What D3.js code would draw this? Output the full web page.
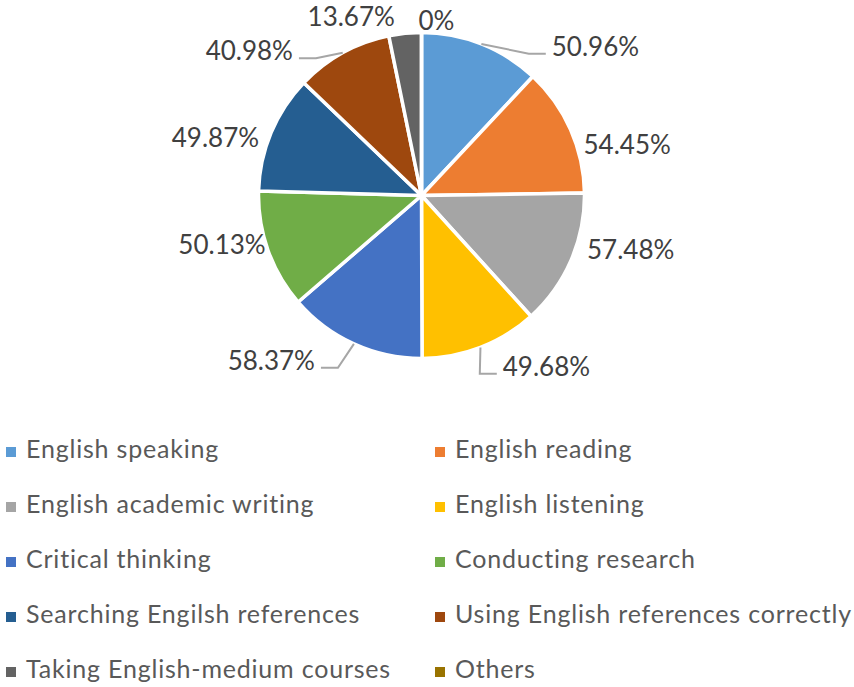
<!DOCTYPE html>
<html>
<head>
<meta charset="utf-8">
<script src="https://cdn.jsdelivr.net/npm/d3@7"></script>
<style>
  html, body { margin: 0; padding: 0; background: #fff; }
  svg { display: block; font-family: Lato, "Open Sans", sans-serif; }
</style>
</head>
<body>
<svg id="chart"></svg>
<script>
// data
const categories = [
  "English speaking", "English reading", "English academic writing", "English listening",
  "Critical thinking", "Conducting research", "Searching Engilsh references",
  "Using English references correctly", "Taking English-medium courses", "Others"
];
const values = [50.96, 54.45, 57.48, 49.68, 58.37, 50.13, 49.87, 40.98, 13.67, 0];
const colors = [
  "#5B9BD5", "#ED7D31", "#A5A5A5", "#FFC000", "#4472C4",
  "#70AD47", "#255E91", "#9E480E", "#636363", "#997300"
];

// label layout tweaks (Excel "best fit" moves some labels off the radial line)
const labelNudge = [[66, 13], [2, 19], [5, -16], [18, 7], [-34, 5], [9, -10], [-1, 9], [-44, 8], [-9, -5], [-3, -1]];
const hasLeader = [true, false, false, true, true, false, false, true, false, false];

const width = 854, height = 687;
const cx = 421.5, cy = 195.5, r = 163;

const svg = d3.select("#chart").attr("width", width).attr("height", height);
const g = svg.append("g").attr("transform", `translate(${cx},${cy})`);

const rows = categories.map((c, i) => ({ name: c, value: values[i], color: colors[i], i }));

const pie = d3.pie().value(d => d.value).sort(null);
const arcs = pie(rows);
const arc = d3.arc().innerRadius(0).outerRadius(r);

g.selectAll("path.slice")
  .data(arcs)
  .join("path")
  .attr("class", "slice")
  .attr("d", arc)
  .attr("fill", d => d.data.color)
  .attr("stroke", "#fff")
  .attr("stroke-width", 3.5)
  .attr("stroke-linejoin", "round");

// data labels
const pad = 12;
const labels = arcs.map(d => {
  const a = (d.startAngle + d.endAngle) / 2;
  const s = Math.sin(a), c = Math.cos(a);
  const nudge = labelNudge[d.data.i];
  const anchor = s > -0.01 ? "start" : "end";
  return {
    d, a, anchor,
    x: (r + pad) * s + nudge[0],
    y: -(r + pad) * c + nudge[1],
    ex: r * s, ey: -r * c,
    text: d.data.value + "%"
  };
});

// leader lines
const leaders = labels.filter(l => hasLeader[l.d.data.i]);
g.selectAll("polyline.leader")
  .data(leaders)
  .join("polyline")
  .attr("class", "leader")
  .attr("fill", "none")
  .attr("stroke", "#A6A6A6")
  .attr("stroke-width", 2)
  .attr("points", l => {
    const dir = l.anchor === "start" ? 1 : -1;
    const endX = l.x - dir * 6, endY = l.y + 8;
    const elbowX = endX - dir * 17;
    return [[l.ex, l.ey], [elbowX, endY], [endX, endY]].map(p => p.join(",")).join(" ");
  });

g.selectAll("text.label")
  .data(labels)
  .join("text")
  .attr("class", "label")
  .attr("x", l => l.x)
  .attr("y", l => l.y)
  .attr("text-anchor", l => l.anchor)
  .attr("dominant-baseline", "central")
  .attr("font-size", 26)
  .attr("fill", "#404040")
  .text(l => l.text);

// legend, two columns
const colX = [6, 435];
const rowY = d3.scalePoint().domain(d3.range(5)).range([458, 678]);

const legend = svg.append("g").attr("class", "legend");
const items = legend.selectAll("g.item")
  .data(rows)
  .join("g")
  .attr("class", "item")
  .attr("transform", d => `translate(${colX[d.i % 2]},${rowY(Math.floor(d.i / 2))})`);

items.append("rect")
  .attr("x", 0)
  .attr("y", -11)
  .attr("width", 10)
  .attr("height", 10)
  .attr("fill", d => d.color);

items.append("text")
  .attr("x", 20)
  .attr("y", 0)
  .attr("font-size", 25)
  .attr("letter-spacing", 0.8)
  .attr("fill", "#595959")
  .text(d => d.name);
</script>
</body>
</html>
